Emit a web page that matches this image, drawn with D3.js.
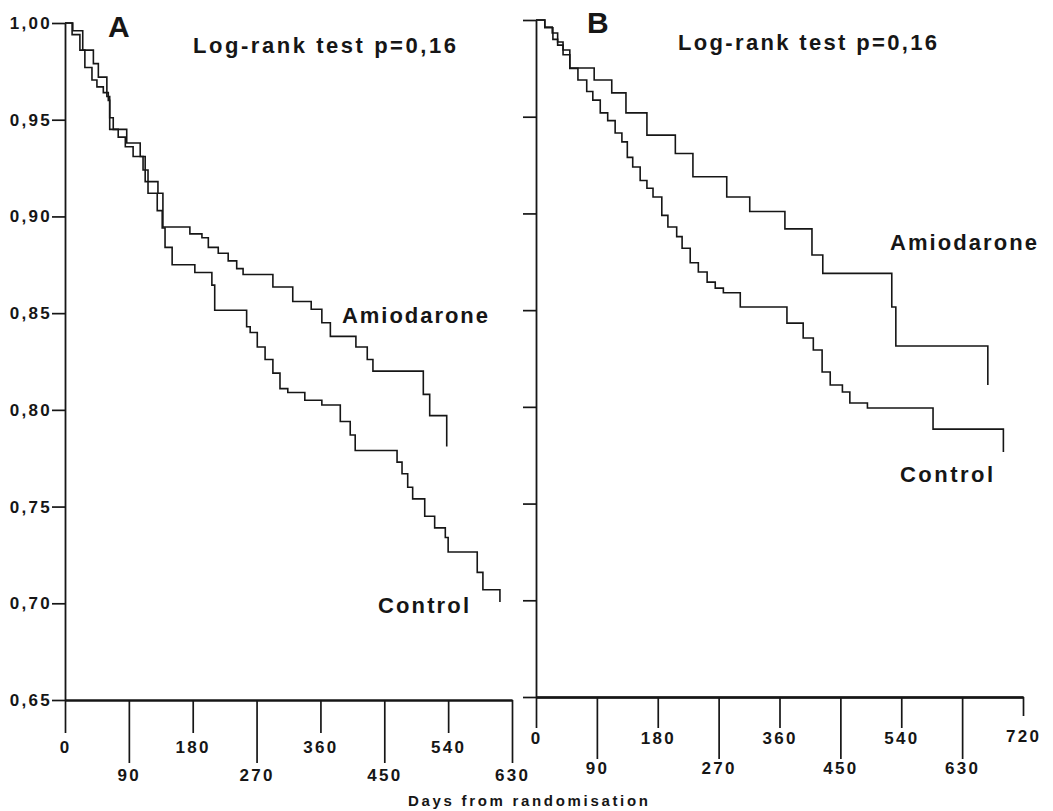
<!DOCTYPE html>
<html>
<head>
<meta charset="utf-8">
<script src="https://cdn.jsdelivr.net/npm/d3@7"></script>
<style>
  html, body { margin: 0; padding: 0; background: #fff; }
  svg { display: block; }
  text { font-family: "Liberation Sans", Arial, Helvetica, sans-serif; fill: #161616; }
</style>
</head>
<body>
<svg id="chart" width="1053" height="811"></svg>
<script>
// Survival axis ticks and day ticks (alternating short / long tick marks)
const yTicks = [0.65, 0.70, 0.75, 0.80, 0.85, 0.90, 0.95, 1.00];
const dayTicksShort = [0, 180, 360, 540];
const dayTicksLong = [90, 270, 450, 630];
const dayTicksEnd = [720];

// Kaplan-Meier estimates: [day, cumulative survival after the step]
// Panel A
const amiodaroneA = [
  [0, 1.000], [11, 0.996], [25, 0.986], [40, 0.979], [47, 0.972], [59, 0.962],
  [63, 0.951], [68, 0.945], [87, 0.938], [106, 0.931], [113, 0.918], [131, 0.912],
  [138, 0.8945], [176, 0.891], [193, 0.889], [202, 0.884], [216, 0.881], [230, 0.877],
  [242, 0.873], [251, 0.870], [293, 0.8635], [321, 0.856], [347, 0.852], [362, 0.845],
  [374, 0.838], [410, 0.8325], [426, 0.826], [434, 0.820], [505, 0.808], [514, 0.797],
  [538, 0.781]
];
const controlA = [
  [0, 1.000], [10, 0.994], [21, 0.986], [28, 0.977], [38, 0.9705], [45, 0.967],
  [54, 0.964], [61, 0.960], [63, 0.945], [75, 0.941], [85, 0.936], [96, 0.931],
  [110, 0.924], [117, 0.912], [130, 0.903], [137, 0.894], [141, 0.884], [151, 0.875],
  [183, 0.871], [207, 0.8645], [211, 0.8515], [256, 0.843], [261, 0.840], [271, 0.8325],
  [282, 0.826], [293, 0.819], [303, 0.811], [314, 0.809], [338, 0.805], [362, 0.8025],
  [388, 0.794], [402, 0.787], [409, 0.779], [468, 0.773], [475, 0.767], [483, 0.760],
  [490, 0.754], [507, 0.745], [521, 0.739], [536, 0.734], [540, 0.7265], [581, 0.716],
  [589, 0.707], [613, 0.7007]
];
// Panel B
const amiodaroneB = [
  [0, 1.000], [13, 0.9964], [24, 0.9933], [32, 0.9886], [40, 0.9845], [50, 0.9752],
  [86, 0.969], [112, 0.9623], [133, 0.952], [164, 0.9405], [206, 0.931], [232, 0.919],
  [282, 0.9085], [316, 0.901], [368, 0.892], [408, 0.8785], [424, 0.869], [526, 0.8516],
  [532, 0.8315], [668, 0.8113]
];
const controlB = [
  [0, 1.000], [13, 0.996], [25, 0.990], [32, 0.987], [40, 0.982], [50, 0.975],
  [62, 0.969], [75, 0.963], [84, 0.9586], [95, 0.952], [106, 0.948], [117, 0.9416],
  [127, 0.937], [135, 0.929], [143, 0.924], [154, 0.917], [164, 0.913], [173, 0.9085],
  [186, 0.899], [195, 0.893], [208, 0.888], [216, 0.882], [228, 0.8745], [240, 0.8697],
  [253, 0.8645], [265, 0.8614], [277, 0.859], [302, 0.8516], [371, 0.8433], [395, 0.8356],
  [410, 0.8294], [423, 0.818], [435, 0.8113], [453, 0.8077], [464, 0.802], [490, 0.7994],
  [587, 0.7885], [691, 0.7767]
];

const INK = "#161616";
const svg = d3.select("#chart");
const commaFormat = d3.formatLocale({ decimal: ",", thousands: ".", grouping: [3], currency: ["", ""] }).format(".2f");

const panels = [
  {
    letter: "A", maxDay: 630, xRange: [65, 512], yRange: [700, 23], showY: true,
    dayTicks: [
      { values: dayTicksShort, size: 33, pad: 8 },
      { values: dayTicksLong, size: 63, pad: 6 }
    ],
    series: [amiodaroneA, controlA],
    letterPos: [108, 37], testPos: [193, 53, 263],
    amioLabel: [342, 323, 146], controlLabel: [378, 613, 91]
  },
  {
    letter: "B", maxDay: 720, xRange: [536, 1023], yRange: [697, 20], showY: false,
    dayTicks: [
      { values: dayTicksShort, size: 31, pad: 4 },
      { values: dayTicksLong, size: 62, pad: 3 },
      { values: dayTicksEnd, size: 19, pad: 14 }
    ],
    series: [amiodaroneB, controlB],
    letterPos: [587, 33], testPos: [678, 50, 259],
    amioLabel: [890, 250, 147], controlLabel: [900, 482, 93]
  }
];

function styleAxis(sel) {
  sel.attr("font-family", null).attr("font-size", null);
  sel.selectAll(".domain").attr("stroke", INK).attr("stroke-width", 1.8);
  sel.selectAll(".tick line").attr("stroke", INK).attr("stroke-width", 1.7);
  sel.selectAll(".tick text")
    .attr("fill", INK)
    .style("font-size", "17px")
    .style("font-weight", "bold")
    .style("letter-spacing", "2.3px");
}

panels.forEach(p => {
  const x = d3.scaleLinear().domain([0, p.maxDay]).range(p.xRange);
  const y = d3.scaleLinear().domain([0.65, 1]).range(p.yRange);
  const g = svg.append("g").attr("class", "panel-" + p.letter);

  // survival axis
  g.append("g")
    .attr("transform", `translate(${x(0)},0)`)
    .call(d3.axisLeft(y).tickValues(yTicks).tickSize(13).tickSizeOuter(0).tickPadding(0)
      .tickFormat(p.showY ? commaFormat : ""))
    .call(styleAxis);

  // day axis, drawn as groups of tick lengths
  p.dayTicks.forEach(t => {
    g.append("g")
      .attr("transform", `translate(0,${y(0.65)})`)
      .call(d3.axisBottom(x).tickValues(t.values).tickSize(t.size).tickSizeOuter(0).tickPadding(t.pad)
        .tickFormat(d3.format("d")))
      .call(styleAxis);
  });

  // survival curves
  const line = d3.line().x(d => x(d[0])).y(d => y(d[1])).curve(d3.curveStepAfter);
  g.selectAll("path.km").data(p.series).join("path")
    .attr("class", "km")
    .attr("d", line)
    .attr("fill", "none")
    .attr("stroke", INK)
    .attr("stroke-width", 1.6)
    .attr("stroke-linejoin", "miter");

  // panel letter
  g.append("text").attr("x", p.letterPos[0]).attr("y", p.letterPos[1])
    .style("font-size", "30px").style("font-weight", "bold").text(p.letter);

  // test statistic
  g.append("text").attr("x", p.testPos[0]).attr("y", p.testPos[1])
    .attr("textLength", p.testPos[2]).attr("lengthAdjust", "spacing")
    .style("font-size", "22px").style("font-weight", "bold").text("Log-rank test p=0,16");

  // curve labels
  g.append("text").attr("x", p.amioLabel[0]).attr("y", p.amioLabel[1])
    .attr("textLength", p.amioLabel[2]).attr("lengthAdjust", "spacing")
    .style("font-size", "22px").style("font-weight", "bold").text("Amiodarone");
  g.append("text").attr("x", p.controlLabel[0]).attr("y", p.controlLabel[1])
    .attr("textLength", p.controlLabel[2]).attr("lengthAdjust", "spacing")
    .style("font-size", "22px").style("font-weight", "bold").text("Control");
});

// shared day-axis title
svg.append("text").attr("x", 408).attr("y", 806)
  .attr("textLength", 240).attr("lengthAdjust", "spacing")
  .style("font-size", "15px").style("font-weight", "bold")
  .text("Days from randomisation");
</script>
</body>
</html>
